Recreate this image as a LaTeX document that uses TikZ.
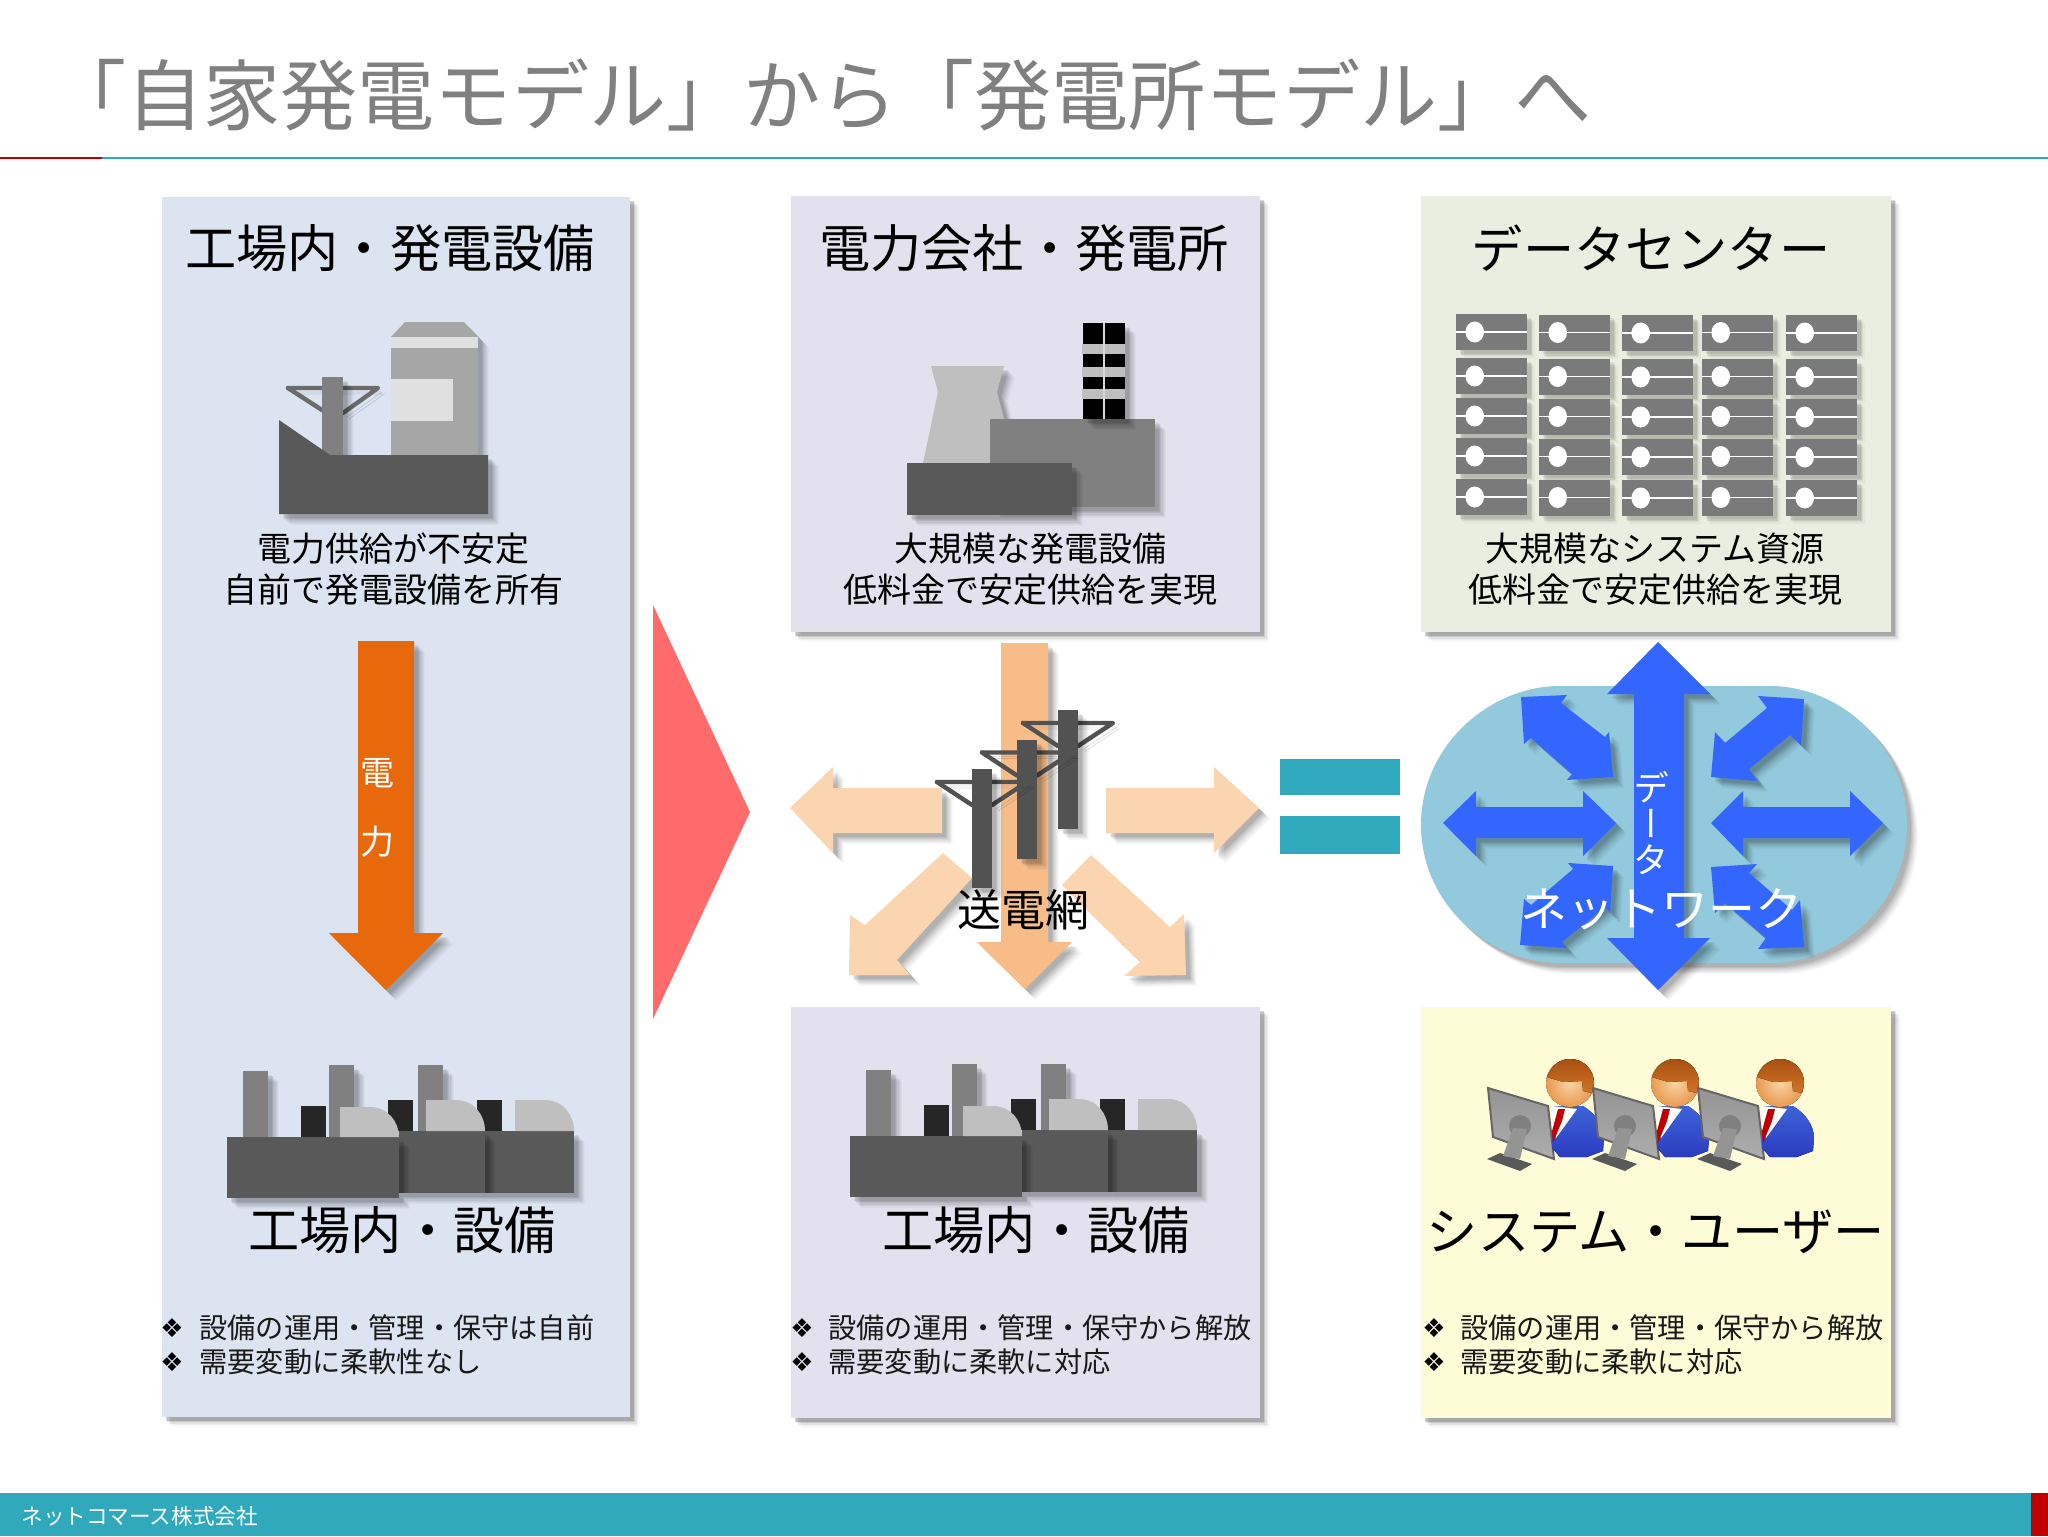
\documentclass[tikz,border=0pt]{standalone}
\usepackage{fontspec}
\setmainfont{Noto Sans CJK JP}
\newfontfamily\vertcjk[RawFeature=+vert]{Noto Sans CJK JP}
\newfontfamily\symfont{DejaVu Sans}
\definecolor{teal1}{HTML}{2FA9BB}
\definecolor{red1}{HTML}{C00000}
\definecolor{blue1}{HTML}{3366FF}
\definecolor{peach}{HTML}{FBD5B0}
\definecolor{peach2}{HTML}{F7BC88}
\definecolor{hair1}{HTML}{A8500F}
\definecolor{hair2}{HTML}{D0752A}
\definecolor{face1}{HTML}{F9D3A4}
\definecolor{face2}{HTML}{E89A50}
\definecolor{suit1}{HTML}{3F63D8}
\definecolor{suit2}{HTML}{2A3CC0}
\tikzset{
  lay/.style args={#1/#2}{preaction={fill=black,opacity=#2,transform canvas={shift={(#1pt,-#1pt)}}}},
  sh/.style={lay=5/.025,lay=4.2/.04,lay=3.4/.06,lay=2.6/.10,lay=1.8/.16},
  shs/.style={lay=5.5/.025,lay=5/.03,lay=4.4/.04,lay=3.8/.05,lay=3.2/.06,lay=2.6/.07,lay=2/.07},
  shl/.style={lay=4/.03,lay=3.2/.05,lay=2.5/.07,lay=1.8/.08},
  lsh/.style={preaction={draw=black,opacity=.12,transform canvas={shift={(3pt,-3pt)}}},
              preaction={draw=black,opacity=.12,transform canvas={shift={(2pt,-2pt)}}}},
  lbl/.style={inner sep=0pt,font=\fontsize{#1}{#1}\selectfont,text=black},
  bul/.style={inner sep=0pt,anchor=west,font=\fontsize{14.1}{14.1}\selectfont,text=black!90},
  bsym/.style={inner sep=0pt,font=\symfont\fontsize{13}{13}\selectfont,text=black},
  head/.style={lbl=25.6},
  sub/.style={lbl=17},
  pyl/.style={draw=#1,line width=2.2,line join=round,line cap=round},
}
\newcommand{\factoryicon}[2]{%
\begin{scope}[shift={(#1,#2)}]
 \fill[shs,fill=black!50] (243,1071) rectangle (268,1137);
 \fill[shs,fill=black!50] (329,1065) rectangle (354,1137);
 \fill[shs,fill=black!50] (418,1065) rectangle (443,1131);
 \fill[fill=black!85] (301,1106) rectangle (326,1137);
 \fill[fill=black!85] (388,1100) rectangle (413,1131);
 \fill[fill=black!85] (477,1100) rectangle (502,1131);
 \fill[shs,fill=black!65] (485,1131) rectangle (574,1193);
 \fill[shs,fill=black!65] (399,1131) rectangle (485,1193);
 \fill[shs,fill=black!65] (227,1137) rectangle (399,1198);
 \foreach \xa/\ya/\yb in {340/1107/1137,426/1100/1131,515/1100/1131}{
  \fill[fill=black!25] (\xa,\yb) -- (\xa,\ya) -- (\xa+30,\ya) .. controls (\xa+48,\ya) and (\xa+59,\ya+15) .. (\xa+59,\yb) -- cycle;}
\end{scope}}
\newcommand{\pylonicon}[2]{%
\begin{scope}[shift={(#1,#2)}]
 \draw[pyl=black!68,lsh] (937,782) -- (1027,782) -- (992,805);
 \draw[pyl=black!68,lsh] (937,782) -- (972,805);
 \fill[shs,fill=black!68] (972,769) rectangle (992,888);
\end{scope}}
\newcommand{\usericon}[1]{%
\begin{scope}[shift={(#1,1)}]
 \fill[black!65] (1487,1158) -- (1500,1152) -- (1532,1163) -- (1520,1170) -- cycle;
 \fill[top color=black!42,bottom color=black!32,draw=black!60,line width=1] (1488,1087) -- (1548,1105) -- (1554,1158) -- (1493,1136) -- cycle;
 \fill[black!50] (1520,1125) circle (11);
 \fill[black!42] (1513,1127) -- (1527,1128) -- (1520,1158) -- (1503,1155) -- cycle;
 \fill[top color=suit1,bottom color=suit2] (1552,1105) -- (1583,1105) .. controls (1596,1113) and (1604,1125) .. (1604,1137) -- (1603,1150) -- (1587,1156) -- (1560,1156) -- (1552,1147) -- cycle;
 \fill[white] (1552,1105) -- (1577,1108) -- (1556,1137) -- (1552,1130) -- cycle;
 \fill[red!75!black] (1558,1108) -- (1565,1108) -- (1562,1120) -- (1553,1142) -- (1552,1130) -- cycle;
 \fill[inner color=face1,outer color=face2] (1570,1082) circle (24);
 \fill[top color=hair1,bottom color=hair2] (1547,1076) .. controls (1552,1064) and (1560,1058) .. (1570,1058) .. controls (1585,1058) and (1594,1070) .. (1594,1082) -- (1592,1092) -- (1583,1090) -- (1582,1080) -- (1563,1081) -- cycle;
\end{scope}}
\begin{document}
\begin{tikzpicture}[x=0.5pt,y=-0.5pt]
\useasboundingbox (0,0) rectangle (2048,1536);
\fill[white] (0,0) rectangle (2048,1536);
% header
\node[inner sep=0pt,anchor=west,font=\fontsize{38.55}{38.55}\selectfont,text=black!50] (title) at (49,95) {「自家発電モデル」から「発電所モデル」へ};
\fill[teal1] (102,157) rectangle (2048,159);
\fill[red1] (0,157) rectangle (102,159);
% footer
\fill[teal1] (0,1493) rectangle (2048,1536);
\fill[red1] (2031,1493) rectangle (2048,1536);
\node[inner sep=0pt,anchor=west,font=\fontsize{10.8}{10.8}\selectfont,text=white] (foot) at (21,1516) {ネットコマース株式会社};
% panels
\fill[sh,fill={rgb,255:red,220;green,227;blue,241}] (162,197) rectangle (630,1417);
\fill[sh,fill={rgb,255:red,226;green,225;blue,237}] (791,196) rectangle (1260,632);
\fill[sh,fill={rgb,255:red,226;green,225;blue,237}] (791,1007) rectangle (1260,1418);
\fill[sh,fill={rgb,255:red,234;green,238;blue,224}] (1421,196) rectangle (1891,632);
\fill[sh,fill={rgb,255:red,254;green,252;blue,214}] (1421,1007) rectangle (1891,1418);
% headings
\node[head] (h1) at (390,248) {工場内・発電設備};
\node[head] (h2) at (1024,248) {電力会社・発電所};
\node[head] (h3) at (1651,248) {データセンター};
\node[sub] (s1a) at (393,549) {電力供給が不安定};
\node[sub] (s1b) at (393,590) {自前で発電設備を所有};
\node[sub] (s2a) at (1030,549) {大規模な発電設備};
\node[sub] (s2b) at (1030,590) {低料金で安定供給を実現};
\node[sub] (s3a) at (1655,549) {大規模なシステム資源};
\node[sub] (s3b) at (1655,590) {低料金で安定供給を実現};
% left plant
\fill[shs,fill=black!35] (391,337) -- (405,322) -- (464,322) -- (478,337) -- (478,455) -- (391,455) -- cycle;
\fill[black!12] (391,337) rectangle (478,348);
\fill[black!12] (391,379) rectangle (453,421);
\draw[pyl=black!58,lsh] (288,388) -- (378,388) -- (343,413);
\draw[pyl=black!58,lsh] (288,388) -- (322,410);
\fill[shs,fill=black!50] (322,377) rectangle (343,455);
\fill[shs,fill=black!65] (279,420) -- (330,455) -- (488,455) -- (488,514) -- (279,514) -- cycle;
% middle plant
\fill[shs,fill=black!25] (931,366) -- (1004,366) -- (997,392) -- (1004,419) -- (1004,463) -- (923,463) -- (938,392) -- cycle;
\fill[shs,fill=black!50] (990,419) rectangle (1155,507);
\fill[shs,fill=black] (1083,323) rectangle (1125,419);
\fill[black!25] (1082,344) rectangle (1125,354);
\fill[black!25] (1082,367) rectangle (1125,377);
\fill[black!25] (1082,389) rectangle (1125,399);
\fill[black!15] (1103,323) rectangle (1105,419);
\fill[shs,fill=black!65] (907,463) rectangle (1072,515);
% servers
\foreach \cx/\dy in {1456/0,1539/0.5,1622/1,1702/0.5,1786/1}{
 \foreach \ry in {314,358,398,438,479}{
  \fill[shl,fill=black!52] (\cx,\ry+\dy) rectangle (\cx+71,\ry+36+\dy);
 }}
\foreach \cx/\dy in {1456/0,1539/0.5,1622/1,1702/0.5,1786/1}{
 \foreach \ry in {314,358,398,438,479}{
  \fill[black!52] (\cx,\ry+\dy) rectangle (\cx+71,\ry+36+\dy);
  \fill[white] (\cx,\ry+17.2+\dy) rectangle (\cx+71,\ry+18.8+\dy);
  \fill[white] (\cx+18.7,\ry+18+\dy) ellipse (9.3 and 10.5);
 }}
% left arrow
\fill[shs,fill={rgb,255:red,232;green,105;blue,11}] (358,641) -- (414,641) -- (414,933) -- (443,933) -- (386,990) -- (329,933) -- (358,933) -- cycle;
\node[lbl=17,text=white] (d1) at (377,773) {電};
\node[lbl=17,text=white] (d2) at (377,842) {力};
% red triangle
\fill[fill={rgb,255:red,255;green,106;blue,106}] (653,605) -- (750,812) -- (653,1019) -- cycle;
% grid arrows
\fill[shs,fill=peach2] (1001,643) -- (1048,643) -- (1048,942) -- (1072,942) -- (1025,989) -- (977,942) -- (1001,942) -- cycle;
\fill[shs,fill=peach] (790,808) -- (833,767) -- (833,788) -- (942,788) -- (942,833) -- (833,833) -- (833,853) -- cycle;
\fill[shs,fill=peach] (1259,808) -- (1214,767) -- (1214,788) -- (1106,788) -- (1106,833) -- (1214,833) -- (1214,853) -- cycle;
\fill[shs,fill=peach] (849,975) -- (850,915) -- (865,925) -- (943,853) -- (972,878) -- (897,960) -- (910,975) -- cycle;
\fill[shs,fill=peach] (1186,975) -- (1184,914) -- (1170,927) -- (1091,855) -- (1062,885) -- (1140,962) -- (1124,976) -- cycle;
\pylonicon{86}{-59}
\pylonicon{45}{-29.5}
\pylonicon{0}{0}
\node[lbl=22] (grid) at (1023,910) {送電網};
% equals
\fill[teal1] (1280,759) rectangle (1400,795);
\fill[teal1] (1280,816) rectangle (1400,854);
% network
\fill[shs,fill={rgb,255:red,146;green,201;blue,220}] (1421,825) .. controls (1421,745) and (1490,686) .. (1560,686) -- (1770,686) .. controls (1840,686) and (1907,745) .. (1907,825) .. controls (1907,905) and (1840,963) .. (1770,963) -- (1560,963) .. controls (1490,963) and (1421,905) .. (1421,825) -- cycle;
\fill[shs,fill=blue1] (1658,642) -- (1710,694) -- (1684,694) -- (1684,938) -- (1710,938) -- (1658,990) -- (1607,938) -- (1634,938) -- (1634,694) -- (1607,694) -- cycle;
\fill[shs,fill=blue1] (1443,823) -- (1476,791) -- (1476,807) -- (1583,807) -- (1583,791) -- (1616,823) -- (1583,856) -- (1583,838) -- (1476,838) -- (1476,856) -- cycle;
\fill[shs,fill=blue1] (1711,823) -- (1743,791) -- (1743,807) -- (1850,807) -- (1850,791) -- (1883,823) -- (1850,856) -- (1850,838) -- (1743,838) -- (1743,856) -- cycle;
\fill[shs,fill=blue1] (1521,697) -- (1567,695) -- (1561,703) -- (1605,737) -- (1609,732) -- (1613,777) -- (1567,780) -- (1572,774) -- (1531,738) -- (1524,744) -- cycle;
\fill[shs,fill=blue1] (1804,699) -- (1758,696) -- (1767,708) -- (1725,743) -- (1715,732) -- (1711,777) -- (1757,781) -- (1749,769) -- (1790,735) -- (1801,745) -- cycle;
\fill[shs,fill=blue1] (1613,866) -- (1568,863) -- (1573,869) -- (1531,905) -- (1524,899) -- (1520,945) -- (1567,948) -- (1562,942) -- (1605,907) -- (1610,913) -- cycle;
\fill[shs,fill=blue1] (1711,867) -- (1757,864) -- (1749,873) -- (1792,910) -- (1800,900) -- (1804,947) -- (1758,949) -- (1766,938) -- (1725,903) -- (1715,913) -- cycle;
\node[inner sep=0pt,align=center,text=white,font=\vertcjk\fontsize{18}{18}\selectfont] (data) at (1651,823) {デ\\ー\\タ};
\node[lbl=23.5,text=white] (net) at (1661,909) {ネットワーク};
% factories and lower panels
\factoryicon{0}{0}
\factoryicon{623}{-1}
\usericon{0}\usericon{105}\usericon{210}
\node[head] (f1) at (402,1230) {工場内・設備};
\node[head] (f2) at (1036,1230) {工場内・設備};
\node[head] (f3) at (1656,1232) {システム・ユーザー};
% bullets
\node[bsym] (b1a) at (172,1328) {❖};
\node[bsym] (b1b) at (172,1362) {❖};
\node[bul] (t1a) at (199,1328) {設備の運用・管理・保守は自前};
\node[bul] (t1b) at (199,1362) {需要変動に柔軟性なし};
\node[bsym] (b2a) at (802,1328) {❖};
\node[bsym] (b2b) at (802,1362) {❖};
\node[bul] (t2a) at (828,1328) {設備の運用・管理・保守から解放};
\node[bul] (t2b) at (828,1362) {需要変動に柔軟に対応};
\node[bsym] (b3a) at (1434,1328) {❖};
\node[bsym] (b3b) at (1434,1362) {❖};
\node[bul] (t3a) at (1460,1328) {設備の運用・管理・保守から解放};
\node[bul] (t3b) at (1460,1362) {需要変動に柔軟に対応};
\end{tikzpicture}
\end{document}
